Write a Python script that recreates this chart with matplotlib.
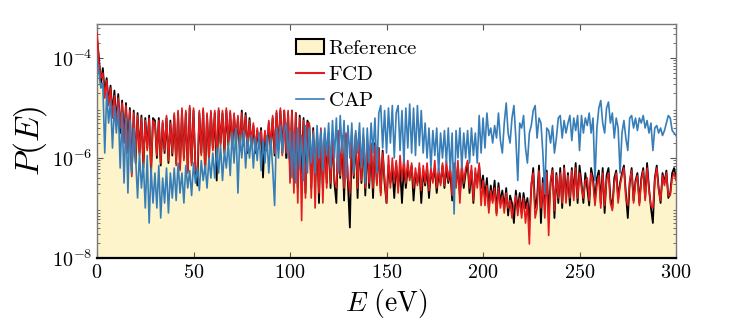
import numpy as np
import matplotlib
matplotlib.use("Agg")
import matplotlib.pyplot as plt
from matplotlib.ticker import FuncFormatter, LogLocator, NullFormatter
from matplotlib.patches import Patch
from matplotlib.lines import Line2D

plt.rcParams['mathtext.fontset'] = 'cm'

# Energy grid (eV)
energy = np.arange(0, 301, 1)

# log10 P(E) for the Reference (black line, yellow fill)
ref_log = [
    -3.6, -4.0, -4.5, -4.2, -4.7, -4.4, -4.9, -4.55, -5.1, -4.65,
    -5.3, -4.72, -5.5, -4.85, -5.6, -4.9, -5.8, -5.0, -6.3, -5.05,
    -6.1, -5.1, -5.9, -5.15, -6.2, -5.2, -5.8, -5.15, -6.3, -5.2,
    -5.25, -6.0, -5.2, -6.15, -5.3, -5.9, -5.2, -6.1, -5.25, -5.95,
    -5.15, -6.1, -5.1, -6.2, -5.05, -6.0, -5.1, -6.25, -5.0, -6.1,
    -5.05, -6.2, -6.55, -5.1, -5.9, -5.05, -6.3, -5.15, -6.0, -5.1,
    -5.8, -5.1, -6.45, -5.05, -5.7, -5.1, -5.9, -5.05, -5.75, -5.1,
    -5.8, -5.15, -5.7, -5.2, -5.85, -5.05, -5.75, -5.1, -5.9, -5.2,
    -5.75, -5.35, -5.9, -5.45, -5.8, -5.4, -6.39, -5.5, -5.85, -5.3,
    -5.85, -5.2, -5.95, -5.1, -5.8, -5.05, -5.9, -5.05, -6.0, -5.1,
    -6.2, -5.05, -6.4, -5.1, -6.6, -5.15, -6.3, -5.2, -6.7, -5.25,
    -5.35, -6.6, -5.4, -6.5, -5.5, -6.9, -5.45, -6.6, -5.5, -6.5,
    -5.5, -6.6, -5.55, -6.5, -6.9, -5.5, -6.4, -5.6, -6.85, -5.55,
    -6.5, -7.39, -5.6, -6.4, -5.55, -6.8, -5.65, -6.5, -5.6, -6.75,
    -5.7, -6.6, -5.75, -6.8, -5.7, -6.5, -5.8, -6.7, -5.85, -6.5,
    -6.9, -6.15, -6.5, -6.2, -6.8, -6.1, -6.6, -6.2, -6.9, -6.15,
    -6.6, -6.2, -6.4, -6.15, -6.85, -6.3, -6.5, -6.2, -6.9, -6.25,
    -6.55, -6.2, -6.8, -6.25, -6.45, -6.2, -6.7, -6.3, -6.5, -6.15,
    -6.6, -6.2, -6.5, -6.25, -6.85, -6.2, -6.55, -6.15, -6.75, -6.2,
    -6.6, -6.3, -6.1, -6.7, -6.25, -6.9, -6.3, -6.5, -6.15, -6.6,
    -6.35, -6.8, -6.4, -7.0, -6.55, -6.85, -6.45, -7.1, -6.5, -6.9,
    -6.65, -7.0, -6.6, -7.15, -6.75, -6.9, -7.3, -6.65, -7.05, -6.7,
    -7.1, -6.7, -7.0, -6.8, -7.25, -6.6, -6.2, -7.0, -6.8, -6.15,
    -7.3, -6.4, -6.9, -6.25, -7.1, -6.5, -6.2, -7.2, -6.3, -6.9,
    -6.2, -7.0, -6.15, -6.8, -6.3, -6.95, -6.2, -6.75, -6.1, -6.9,
    -6.15, -6.5, -6.9, -6.3, -6.6, -6.95, -6.2, -6.4, -6.85, -6.4,
    -6.25, -6.9, -6.2, -7.1, -6.35, -6.2, -6.8, -7.0, -6.4, -6.25,
    -6.8, -6.5, -6.3, -6.15, -6.7, -7.2, -6.5, -6.2, -6.85, -6.45,
    -6.3, -6.9, -6.4, -6.2, -6.8, -6.1, -6.6, -7.0, -7.3, -6.4,
    -6.15, -6.6, -6.9, -6.3, -6.5, -6.25, -6.8, -6.7, -6.3, -6.2, -6.4,
]

# log10 P(E) for FCD (red)
fcd_log = [
    -3.5, -4.1, -4.4, -4.3, -4.8, -4.45, -4.95, -4.6, -5.2, -4.75,
    -5.35, -4.8, -5.4, -4.9, -5.7, -4.95, -5.9, -5.05, -6.37, -5.1,
    -6.0, -5.15, -5.95, -5.2, -6.1, -5.25, -5.85, -5.2, -6.2, -5.25,
    -5.3, -5.95, -5.25, -6.1, -5.25, -5.85, -5.15, -6.05, -5.3, -5.9,
    -5.1, -6.15, -5.05, -6.25, -5.0, -6.05, -5.05, -6.3, -4.95, -6.15,
    -5.0, -6.25, -6.3, -5.05, -5.95, -5.0, -6.25, -5.1, -6.05, -5.05,
    -5.85, -5.05, -6.0, -5.0, -5.75, -5.05, -5.85, -5.0, -5.7, -5.05,
    -5.75, -5.1, -5.75, -5.15, -5.8, -5.1, -5.7, -5.15, -5.85, -5.25,
    -5.7, -5.3, -5.85, -5.4, -5.75, -5.45, -5.9, -5.45, -5.8, -5.25,
    -5.8, -5.15, -5.9, -5.05, -5.85, -5.0, -5.95, -5.05, -5.9, -5.05,
    -6.5, -5.05, -6.7, -5.1, -6.9, -5.2, -7.25, -5.25, -6.8, -5.3,
    -5.3, -6.8, -5.45, -7.0, -5.5, -6.7, -5.4, -6.9, -5.55, -6.6,
    -5.55, -6.5, -5.5, -6.45, -6.6, -5.45, -6.35, -5.55, -6.6, -5.5,
    -6.4, -6.7, -5.55, -6.35, -5.5, -6.6, -5.6, -6.45, -5.55, -6.6,
    -5.65, -6.5, -5.7, -6.6, -5.75, -6.55, -5.8, -6.75, -5.9, -6.4,
    -6.9, -5.95, -6.6, -6.0, -6.5, -6.05, -6.7, -5.95, -6.45, -6.0,
    -6.5, -6.05, -6.45, -6.1, -6.6, -6.2, -6.55, -6.1, -6.65, -6.15,
    -6.5, -6.1, -6.65, -6.2, -6.5, -6.05, -6.6, -6.2, -6.55, -6.1,
    -6.55, -6.05, -6.45, -6.15, -6.75, -6.1, -6.6, -6.05, -6.9, -6.1,
    -6.5, -6.2, -6.05, -6.6, -6.15, -6.85, -6.2, -6.6, -6.1, -6.95,
    -6.45, -6.95, -6.55, -7.1, -6.65, -6.9, -6.6, -7.15, -6.6, -7.0,
    -6.75, -7.1, -6.7, -7.0, -6.85, -7.2, -6.95, -6.75, -7.15, -6.8,
    -7.2, -6.8, -7.3, -6.9, -7.72, -6.5, -6.3, -7.2, -7.0, -6.25,
    -7.0, -6.5, -7.2, -6.3, -7.55, -6.45, -6.25, -7.05, -6.35, -6.8,
    -6.3, -6.9, -6.2, -6.9, -6.35, -6.8, -6.25, -6.85, -6.2, -6.8,
    -6.3, -6.6, -6.8, -6.45, -6.4, -6.85, -6.3, -6.5, -6.95, -6.55,
    -6.35, -7.0, -6.3, -6.95, -6.45, -6.3, -6.9, -7.05, -6.5, -6.3,
    -6.9, -6.55, -6.35, -6.2, -6.8, -6.95, -6.45, -6.25, -6.9, -6.5,
    -6.35, -6.95, -6.45, -6.25, -6.85, -6.2, -6.65, -6.95, -7.0, -6.45,
    -6.2, -6.65, -6.85, -6.35, -6.55, -6.3, -6.75, -6.75, -6.4, -6.3, -6.45,
]

# log10 P(E) for CAP (blue)
cap_log = [
    -4.07, -4.3, -4.6, -4.5, -5.9, -4.7, -5.3, -4.85, -5.8, -4.95,
    -5.5, -5.0, -6.2, -5.1, -6.5, -5.2, -6.7, -5.25, -6.3, -5.4,
    -6.0, -6.8, -5.9, -6.6, -6.1, -7.0, -5.95, -7.3, -6.2, -6.9,
    -6.3, -7.0, -6.15, -7.2, -6.4, -6.9, -6.2, -7.1, -6.3, -6.8,
    -6.2, -6.85, -6.1, -6.7, -6.3, -6.9, -6.15, -6.6, -6.25, -6.75,
    -6.1, -6.5, -6.2, -6.65, -6.05, -6.45, -6.15, -6.6, -6.0, -6.4,
    -5.9, -6.4, -5.8, -6.3, -5.75, -6.45, -5.85, -6.2, -5.7, -6.35,
    -5.5, -6.1, -5.4, -6.7, -5.55, -6.0, -5.45, -6.2, -5.6, -6.0,
    -5.55, -6.2, -5.6, -6.05, -5.5, -6.25, -5.65, -6.1, -5.55, -6.3,
    -5.6, -6.2, -6.95, -5.4, -6.0, -5.35, -5.9, -5.45, -5.3, -6.0,
    -5.45, -6.4, -5.5, -6.5, -5.4, -6.2, -5.55, -6.45, -5.35, -6.3,
    -5.4, -6.1, -5.5, -6.3, -5.35, -6.0, -5.45, -6.25, -5.4, -5.95,
    -5.3, -6.2, -5.25, -6.0, -5.2, -6.3, -5.15, -5.9, -5.25, -6.4,
    -5.35, -6.0, -5.3, -6.3, -5.45, -5.9, -5.3, -6.2, -5.4, -6.5,
    -5.4, -6.1, -5.3, -5.9, -5.2, -6.3, -5.1, -4.95, -5.8, -5.05,
    -5.9, -5.0, -5.7, -4.95, -6.0, -5.1, -4.95, -5.85, -5.05, -6.1,
    -5.0, -5.8, -4.92, -5.9, -5.0, -5.95, -4.95, -5.75, -5.05, -5.9,
    -5.3, -6.0, -5.4, -6.2, -5.45, -5.95, -5.4, -6.3, -5.5, -6.0,
    -5.45, -6.1, -5.4, -6.25, -5.5, -7.12, -5.45, -6.0, -5.4, -6.2,
    -5.5, -6.0, -5.45, -6.1, -5.4, -5.95, -5.5, -6.1, -5.15, -5.9,
    -5.2, -5.8, -5.1, -5.55, -5.4, -5.7, -5.35, -5.6, -5.1, -5.65,
    -5.9, -5.3, -4.9, -5.5, -5.7, -5.2, -4.95, -5.6, -6.45, -5.3,
    -5.4, -5.15, -5.8, -6.1, -5.5, -5.35, -5.05, -4.95, -5.6, -5.2,
    -5.3, -5.9, -6.72, -5.4, -5.45, -5.7, -5.35, -5.9, -5.6, -5.2,
    -5.15, -5.6, -5.25, -5.5, -5.3, -5.15, -5.65, -5.2, -5.45, -5.15,
    -5.85, -5.15, -5.5, -5.2, -5.35, -5.1, -5.5, -5.2, -6.45, -5.4,
    -5.0, -4.85, -5.3, -5.5, -5.0, -4.88, -5.3, -5.1, -5.6, -5.2,
    -5.4, -6.3, -5.5, -5.25, -5.6, -5.85, -5.2, -5.15, -5.4, -5.2,
    -5.45, -5.2, -5.3, -5.15, -5.4, -5.25, -5.5, -5.3, -5.85, -5.4,
    -5.35, -5.5, -5.4, -5.55, -5.45, -5.3, -5.15, -5.2, -5.45, -5.5, -5.55,
]

ref = 10.0 ** np.array(ref_log)
fcd = 10.0 ** np.array(fcd_log)
cap = 10.0 ** np.array(cap_log)

fill_color = '#FDF4CC'
red = '#E41A1C'
blue = '#377EB8'
ymin, ymax = 1e-8, 4.8e-4

fig = plt.figure(figsize=(7.47, 3.27), dpi=100)
ax = fig.add_axes([0.1299, 0.211, 0.7751, 0.7156])

ax.fill_between(energy, ymin, ref, facecolor=fill_color, edgecolor='none', zorder=1)
ax.plot(energy, ref, color='black', lw=1.3, zorder=2)
ax.plot(energy, fcd, color=red, lw=1.2, zorder=3)
ax.plot(energy, cap, color=blue, lw=1.2, zorder=4)

ax.set_yscale('log')
ax.set_xlim(0, 300)
ax.set_ylim(ymin, ymax)
ax.set_xticks([0, 50, 100, 150, 200, 250, 300])
ax.set_yticks([1e-8, 1e-6, 1e-4])
ax.yaxis.set_minor_locator(LogLocator(base=10, subs=np.arange(2, 10), numticks=20))
ax.yaxis.set_minor_formatter(NullFormatter())
ax.xaxis.set_major_formatter(FuncFormatter(lambda v, p: r'$%d$' % int(round(v))))
ax.yaxis.set_major_formatter(FuncFormatter(lambda v, p: r'$10^{%d}$' % int(round(np.log10(v)))))
ax.tick_params(axis='both', which='both', direction='in', top=True, right=True,
               labelsize=14.5, color='#555555')
ax.tick_params(axis='both', which='major', length=4)
ax.tick_params(axis='both', which='minor', length=2)

for s in ['top', 'right', 'left']:
    ax.spines[s].set_color('#777777')
    ax.spines[s].set_linewidth(1.0)
ax.spines['bottom'].set_color('black')
ax.spines['bottom'].set_linewidth(1.6)
ax.spines['bottom'].set_zorder(5)

ax.set_xlabel(r'$E\ \mathrm{(eV)}$', fontsize=20, labelpad=4)
ax.set_ylabel(r'$P(E)$', fontsize=24, labelpad=2)

handles = [
    Patch(facecolor=fill_color, edgecolor='black', linewidth=1.5),
    Line2D([0], [0], color=red, lw=1.5),
    Line2D([0], [0], color=blue, lw=1.2),
]
labels = [r'$\mathrm{Reference}$', r'$\mathrm{FCD}$', r'$\mathrm{CAP}$']
ax.legend(handles, labels, loc='upper left', bbox_to_anchor=(0.32, 1.0),
          frameon=False, fontsize=15, handlelength=1.35, handletextpad=0.2,
          labelspacing=0.3, borderaxespad=0.25)

fig.savefig('out.png', dpi=100)
